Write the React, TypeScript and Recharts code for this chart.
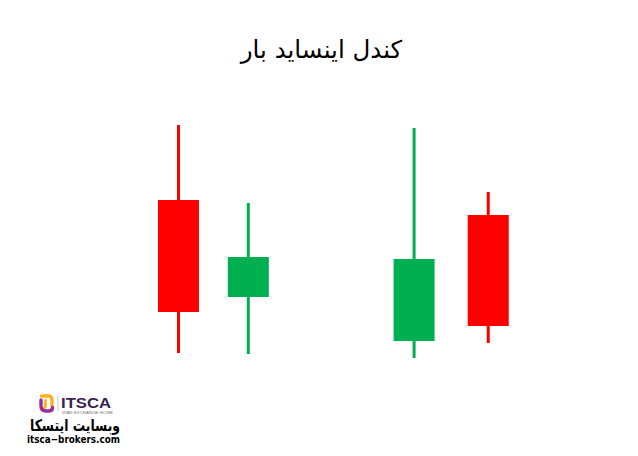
import React from "react";
import { ComposedChart, Bar, XAxis, YAxis } from "recharts";

const positions = [1.03, 1.99, 4.27, 5.29];
const opens = [90, 41.5, 19.5, 82.5];
const highs = [127.5, 88.5, 126, 94];
const lows = [13.5, 13, 11, 18.5];
const closes = [34, 61.5, 60.5, 27];

const RED = "#FF0000";
const GREEN = "#00B050";

const data = positions.map((x, i) => ({
  x,
  open: opens[i],
  high: highs[i],
  low: lows[i],
  close: closes[i],
}));

function Candle(props: any) {
  const { x, y, width, height, payload } = props;
  if (!payload) return null;
  const top = Math.min(y, y + height);
  const h = Math.abs(height);
  const { open, close, high, low } = payload;
  const ratio = h / (high - low);
  const bodyTop = top + (high - Math.max(open, close)) * ratio;
  const bodyBottom = top + (high - Math.min(open, close)) * ratio;
  const color = close >= open ? GREEN : RED;
  const cx = x + width / 2;
  return (
    <g>
      <rect x={cx - 1.5} y={top} width={3} height={h} fill={color} />
      <rect x={x} y={bodyTop} width={width} height={bodyBottom - bodyTop} fill={color} />
    </g>
  );
}

function Logo() {
  return (
    <svg width={638} height={456} style={{ position: "absolute", left: 0, top: 0, pointerEvents: "none" }}>
      {/* icon */}
      <path d="M41.5 396 L48 396 Q52 396 52 400 L52 406" stroke="#F5B324" strokeWidth={3.4} fill="none" strokeLinecap="round" />
      <path d="M45.5 400.5 L45.5 405.5 Q45.5 408.5 42.5 408.5" stroke="#F5B324" strokeWidth={2.8} fill="none" strokeLinecap="round" />
      <path d="M41 400 L41 406 Q41 411 46 411 L49 411 Q52.5 411 52.5 407.5" stroke="#9B2D9B" strokeWidth={3.4} fill="none" strokeLinecap="round" />
      <line x1={58} y1={395} x2={58} y2={411} stroke="#bbb" strokeWidth={0.8} />
      <text x={61} y={408} fontFamily="Liberation Sans, Arial, sans-serif" fontWeight="bold" fontSize={14} fill="#3a2352" textLength={50} lengthAdjust="spacingAndGlyphs">
        ITSCA
      </text>
      <text x={62} y={414} fontFamily="Liberation Sans, Arial, sans-serif" fontSize={4} fill="#777" textLength={51} lengthAdjust="spacingAndGlyphs">
        IRAN EXCHANGE HOME
      </text>
      <text x={75} y={430.5} textAnchor="middle" direction="rtl" fontFamily="DejaVu Sans, sans-serif" fontWeight="bold" fontSize={16} fill="#000" textLength={90} lengthAdjust="spacingAndGlyphs">
        وبسایت ایتسکا
      </text>
      <text x={27} y={443} fontFamily="DejaVu Sans, sans-serif" fontWeight="bold" fontSize={10.5} fill="#000" textLength={93} lengthAdjust="spacingAndGlyphs">
        itsca−brokers.com
      </text>
    </svg>
  );
}

export default function App() {
  return (
    <div style={{ position: "absolute", left: 0, top: 0, width: 638, height: 456, background: "#fff" }}>
      <div
        dir="rtl"
        style={{
          position: "absolute",
          left: 0,
          top: 35,
          width: 643,
          textAlign: "center",
          fontFamily: "DejaVu Sans, sans-serif",
          fontSize: 24.5,
          color: "#000",
          lineHeight: "30px",
        }}
      >
        کندل اینساید بار
      </div>
      <div style={{ position: "absolute", left: 0, top: 0 }}>
        <ComposedChart width={638} height={456} data={data} margin={{ top: 100, bottom: 76, left: 104, right: 25 }}>
          <XAxis dataKey="x" type="number" domain={[0, 7]} hide />
          <YAxis type="number" domain={[0, 140]} hide />
          <Bar dataKey={(d: any) => [d.low, d.high]} barSize={41} shape={Candle} isAnimationActive={false} />
        </ComposedChart>
      </div>
      <Logo />
    </div>
  );
}
